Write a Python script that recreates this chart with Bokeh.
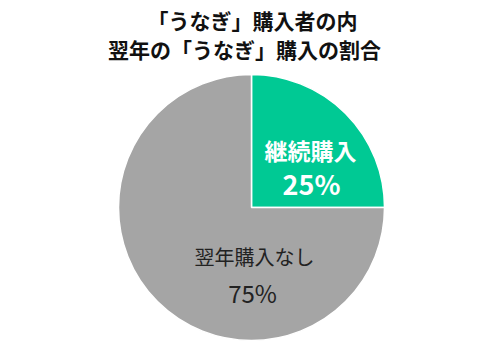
import math
from bokeh.plotting import figure
from bokeh.models import Range1d, ColumnDataSource
from bokeh.core.properties import value
from bokeh.embed import file_html
from bokeh.resources import INLINE

# Data
categories = ["継続購入", "翌年購入なし"]
shares = [25, 75]
colors = ["#00C994", "#A5A5A5"]
title_lines = ["「うなぎ」購入者の内", "翌年の「うなぎ」購入の割合"]

W, H = 500, 351
p = figure(width=W, height=H, output_backend="svg", toolbar_location=None,
           x_range=Range1d(0, W), y_range=Range1d(0, H), min_border=0)
p.axis.visible = False
p.grid.visible = False
p.outline_line_color = None
p.background_fill_color = "white"

cx, cy, r = 251, H - 207, 133
total = sum(shares)
starts, ends = [], []
a = math.pi / 2
for v in shares:
    starts.append(a)
    a = a - 2 * math.pi * v / total
    ends.append(a)

src = ColumnDataSource(dict(cat=categories, val=shares, color=colors,
                            start=starts, end=ends))
p.wedge(x=cx, y=cy, radius=r, start_angle="start", end_angle="end",
        direction="clock", fill_color="color", line_color="white",
        line_width=1.5, source=src)

font = value("Noto Sans CJK JP")
# Title
p.text(x=[252, 244], y=[H - 19, H - 48], text=title_lines, text_font=font,
       text_font_size="21px", text_font_style="bold", text_align="center",
       text_baseline="middle", text_color="#111111")

# Green slice labels
p.text(x=[310], y=[H - 149], text=[categories[0]], text_font=font,
       text_font_size="23px", text_font_style="bold", text_align="center",
       text_baseline="middle", text_color="white")
p.text(x=[311], y=[H - 183], text=[f"{shares[0]}%"], text_font=font,
       text_font_size="27px", text_font_style="bold", text_align="center",
       text_baseline="middle", text_color="white")

# Gray slice labels
p.text(x=[254], y=[H - 256], text=[categories[1]], text_font=font,
       text_font_size="20px", text_align="center",
       text_baseline="middle", text_color="#222222")
p.text(x=[252], y=[H - 292], text=[f"{shares[1]}%"], text_font=font,
       text_font_size="24px", text_align="center",
       text_baseline="middle", text_color="#222222")

open("out.html", "w").write(file_html(p, INLINE))
